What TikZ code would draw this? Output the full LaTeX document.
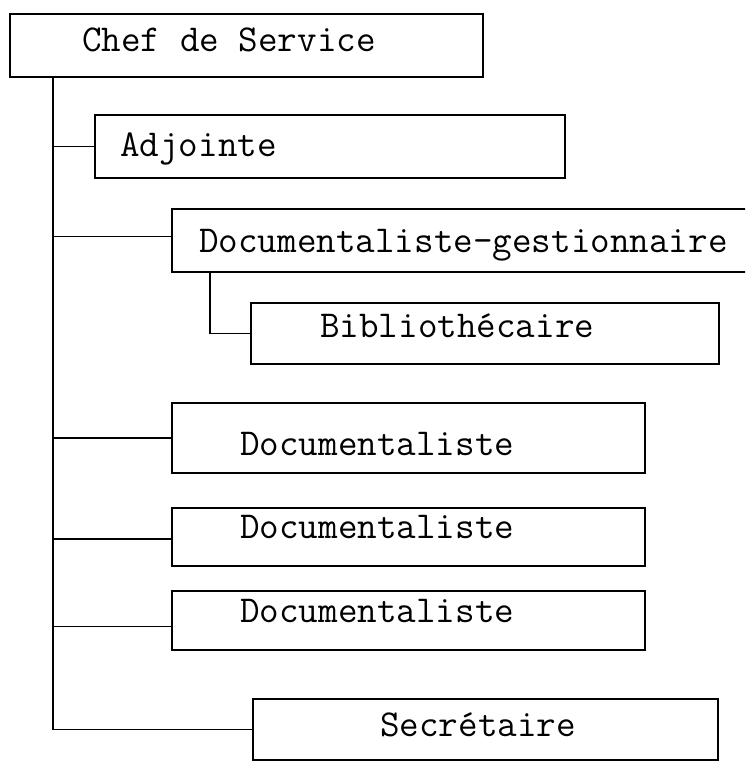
\documentclass[tikz,border=0pt]{standalone}
\usetikzlibrary{fit}

\tikzset{
  box/.style={draw, line width=1.2pt, inner sep=0pt},
  link/.style={draw, line width=1.2pt},
  lbl/.style={anchor=base west, inner sep=0pt, font=\ttfamily\fontsize{28.5}{32}\selectfont}
}

\begin{document}
\begin{tikzpicture}[x=0.75pt, y=-0.75pt]
\useasboundingbox (0,0) rectangle (745,762);
\clip (0,0) rectangle (745,762);

% boxes
\node[box, fit={(10,14) (483,77)}] (chef) {};
\node[box, fit={(95,115) (565,178)}] (adj) {};
\node[box, fit={(172,209) (770,272)}] (gest) {};
\node[box, fit={(251,303) (719,364)}] (bibl) {};
\node[box, fit={(172,403) (645,473)}] (doca) {};
\node[box, fit={(172,508) (645,566)}] (docb) {};
\node[box, fit={(172,591) (645,650)}] (docc) {};
\node[box, fit={(253,699) (718,760)}] (secr) {};

% labels
\node[lbl] (chefT) at (82,52) {Chef de Service};
\node[lbl] (adjT) at (120,157) {Adjointe};
\node[lbl] (gestT) at (199,253) {Documentaliste-gestionnaire};
\node[lbl] (biblT) at (320,337) {Bibliothécaire};
\node[lbl] (docaT) at (240,455) {Documentaliste};
\node[lbl] (docbT) at (240,538) {Documentaliste};
\node[lbl] (doccT) at (240,622) {Documentaliste};
\node[lbl] (secrT) at (380,736) {Secrétaire};

\coordinate (t) at (53,728);
\coordinate (b) at (210,333);

% links
\draw[link] (chef.south -| t) |- (secr.west);
\draw[link] (adj.west -| t) -- (adj.west);
\draw[link] ([yshift=3pt]gest.west -| t) -- ([yshift=3pt]gest.west);
\draw[link] (doca.west -| t) -- (doca.west);
\draw[link] ([yshift=-1.5pt]docb.west -| t) -- ([yshift=-1.5pt]docb.west);
\draw[link] ([yshift=-4.5pt]docc.west -| t) -- ([yshift=-4.5pt]docc.west);
\draw[link] (gest.south -| b) |- (bibl.west);
\end{tikzpicture}
\end{document}
